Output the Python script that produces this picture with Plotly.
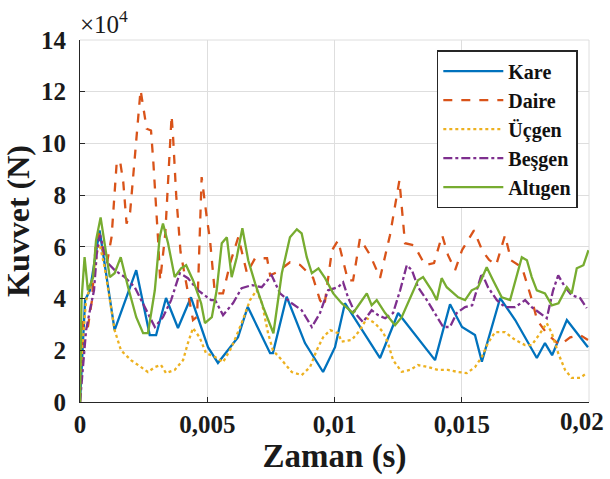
import plotly.graph_objects as go

# Time (s) and force (x10^4 N) for each shape
t_kare = [0, 0.00008, 0.0002, 0.00039, 0.00059, 0.00077, 0.00136, 0.00221, 0.00274, 0.00299,
          0.00338, 0.00385, 0.00436, 0.00503, 0.00542, 0.00621, 0.00659, 0.00747, 0.00758, 0.00812,
          0.00884, 0.00955, 0.01002, 0.01041, 0.01179, 0.0125, 0.01395, 0.01454, 0.01501, 0.01552,
          0.01579, 0.01651, 0.0171, 0.01795, 0.01827, 0.01855, 0.01913, 0.01996]
f_kare = [0, 1.5, 3.94, 4.32, 5.5, 6.64, 2.78, 5.10, 2.59, 2.59,
          4.02, 2.86, 4.05, 2.12, 1.51, 2.51, 3.68, 1.89, 1.89, 4.07,
          2.28, 1.16, 2.12, 3.82, 1.70, 3.44, 1.62, 3.78, 2.90, 2.59,
          1.56, 4.02, 3.17, 1.70, 2.28, 1.81, 3.17, 2.12]

t_daire = [0, 0.00012, 0.00031, 0.00047, 0.00063, 0.00075, 0.0009, 0.00106, 0.00124, 0.00144,
           0.00157, 0.0017, 0.00183, 0.00197, 0.00238, 0.00255, 0.00262, 0.00279, 0.00288, 0.00307,
           0.00315, 0.00335, 0.0036, 0.00366, 0.00378, 0.00395, 0.0042, 0.00444, 0.0046, 0.00478,
           0.00498, 0.00511, 0.0053, 0.00562, 0.0059, 0.00622, 0.00656, 0.00688, 0.00735, 0.00747,
           0.0077, 0.00825, 0.00865, 0.00916, 0.00943, 0.0096, 0.0099, 0.01014, 0.01053, 0.01073,
           0.011, 0.0114, 0.01179, 0.01218, 0.01255, 0.01277, 0.01313, 0.01356, 0.01391, 0.01423,
           0.01446, 0.01474, 0.01501, 0.01548, 0.0158, 0.01607, 0.01635, 0.0167, 0.01694, 0.01737,
           0.01776, 0.01796, 0.01839, 0.01886, 0.01926, 0.01965, 0.01996]
f_daire = [0, 3.17, 2.9, 3.94, 6.25, 6.52, 5.87, 5.37, 6.38, 9.23,
           9.34, 8.5, 6.9, 7.35, 12.07, 11.0, 10.57, 10.5, 9.3, 6.25,
           4.7, 6.5, 11.08, 10.2, 8.0, 5.8, 4.5, 3.17, 3.3, 8.7,
           7.15, 6.25, 4.2, 4.2, 5.37, 6.38, 4.98, 5.56, 5.56, 4.9,
           5.0, 5.4, 5.3, 4.8, 3.94, 3.7, 5.87, 6.25, 4.7, 4.7,
           6.33, 5.68, 4.8, 6.45, 8.57, 6.14, 6.06, 5.29, 5.37, 6.45,
           5.68, 5.1, 5.87, 6.64, 5.87, 5.5, 5.29, 6.45, 5.48, 5.2,
           3.94, 3.17, 2.59, 2.2, 2.5, 2.59, 2.4]

t_ucgen = [0, 0.00008, 0.00024, 0.00051, 0.00071, 0.00077, 0.00097, 0.00117, 0.00136, 0.00161,
           0.002, 0.0024, 0.00267, 0.00294, 0.00318, 0.00338, 0.00372, 0.00405, 0.00424, 0.00444,
           0.0047, 0.00495, 0.00531, 0.00562, 0.00596, 0.00635, 0.00668, 0.00694, 0.00715, 0.00739,
           0.00758, 0.00793, 0.00832, 0.00871, 0.00904, 0.0093, 0.00955, 0.00983, 0.01014, 0.01028,
           0.01068, 0.011, 0.01127, 0.01159, 0.01191, 0.0121, 0.0123, 0.01264, 0.01297, 0.01328,
           0.01368, 0.01407, 0.01446, 0.01486, 0.0152, 0.01552, 0.01579, 0.01603, 0.01631, 0.0167,
           0.0171, 0.01749, 0.01775, 0.01808, 0.01834, 0.01854, 0.01879, 0.01906, 0.01932, 0.01965,
           0.01991]
f_ucgen = [0, 2.0, 3.94, 4.8, 6.0, 6.1, 5.2, 3.94, 2.78, 2.0,
           1.62, 1.35, 1.16, 1.35, 1.43, 1.12, 1.24, 1.62, 2.28, 2.86,
           2.5, 1.89, 1.74, 1.54, 2.12, 3.05, 3.94, 4.32, 3.82, 2.66,
           2.0, 1.62, 1.16, 1.04, 1.35, 2.0, 2.5, 2.78, 2.66, 2.33,
           2.4, 2.78, 3.24, 3.05, 2.7, 2.28, 1.62, 1.17, 1.24, 1.43,
           1.35, 1.24, 1.24, 1.16, 1.12, 1.35, 1.74, 2.28, 2.7, 2.7,
           2.4, 2.2, 2.2, 2.66, 3.05, 2.66, 1.89, 1.24, 0.93, 0.93,
           1.12]

t_besgen = [0, 0.00012, 0.00024, 0.00039, 0.00055, 0.00067, 0.00079, 0.00094, 0.0011, 0.00136,
            0.00176, 0.00215, 0.00254, 0.00294, 0.00326, 0.00358, 0.00392, 0.00424, 0.00464, 0.00515,
            0.00531, 0.00562, 0.00601, 0.00635, 0.00675, 0.00714, 0.00753, 0.00786, 0.00832, 0.00871,
            0.00911, 0.00943, 0.00975, 0.01014, 0.01034, 0.01053, 0.01081, 0.01112, 0.01146, 0.01171,
            0.01199, 0.0123, 0.01258, 0.01284, 0.01304, 0.01328, 0.01363, 0.01395, 0.01427, 0.01454,
            0.0148, 0.01513, 0.01541, 0.01579, 0.01603, 0.01638, 0.0167, 0.0171, 0.01749, 0.01775,
            0.01808, 0.01834, 0.01859, 0.01879, 0.01906, 0.01932, 0.01965, 0.01991]
f_besgen = [0, 1.24, 2.78, 3.55, 4.32, 5.87, 6.45, 5.87, 5.37, 5.1,
            4.83, 4.44, 3.67, 2.9, 3.28, 3.94, 4.98, 4.79, 4.32, 3.94,
            3.94, 3.36, 3.82, 4.4, 4.52, 4.44, 4.9, 4.2, 3.82, 3.55,
            2.9, 3.44, 4.32, 4.44, 4.63, 4.05, 3.44, 3.09, 3.55, 3.36,
            3.24, 3.44, 4.32, 5.29, 5.1, 4.44, 3.94, 3.44, 2.9, 2.9,
            3.44, 3.67, 3.74, 4.98, 4.44, 3.94, 3.67, 3.67, 3.94, 3.67,
            3.44, 3.24, 4.32, 4.9, 4.44, 4.13, 4.02, 3.63]

t_altigen = [0, 0.00006, 0.00018, 0.00031, 0.00051, 0.00063, 0.00081, 0.00097, 0.00117, 0.00136,
             0.0016, 0.00189, 0.00221, 0.00248, 0.00267, 0.00294, 0.00313, 0.00326, 0.00346, 0.00372,
             0.00397, 0.00417, 0.00444, 0.00476, 0.00491, 0.00518, 0.00537, 0.00557, 0.00577, 0.00596,
             0.00616, 0.00638, 0.00661, 0.00688, 0.0072, 0.0076, 0.00793, 0.00825, 0.00852, 0.00871,
             0.00891, 0.00911, 0.00937, 0.00963, 0.00995, 0.01028, 0.01073, 0.011, 0.01127, 0.01146,
             0.01166, 0.01199, 0.01238, 0.01264, 0.01289, 0.01328, 0.01348, 0.01382, 0.01402, 0.01421,
             0.01441, 0.01486, 0.01513, 0.01539, 0.01564, 0.01598, 0.01623, 0.01657, 0.0169, 0.0171,
             0.01736, 0.01756, 0.01775, 0.01795, 0.01827, 0.01854, 0.0188, 0.01913, 0.01932, 0.01952,
             0.01978, 0.01998]
f_altigen = [0, 3.94, 5.6, 4.32, 4.8, 6.25, 7.14, 6.14, 4.83, 4.98,
             5.6, 4.44, 3.28, 2.66, 2.66, 4.32, 6.37, 6.9, 6.14, 4.83,
             5.17, 5.29, 4.71, 3.82, 3.05, 3.28, 4.32, 6.14, 6.37, 4.83,
             5.6, 6.72, 5.48, 4.59, 3.67, 2.66, 4.98, 6.37, 6.68, 6.52,
             5.6, 4.98, 5.17, 4.79, 4.2, 3.82, 3.44, 3.82, 4.2, 3.74,
             3.94, 3.44, 2.97, 3.28, 3.82, 4.71, 4.83, 4.32, 3.94, 4.79,
             4.44, 4.05, 3.94, 4.32, 4.44, 5.21, 4.71, 4.05, 3.94, 4.71,
             5.6, 5.48, 4.83, 4.32, 4.2, 3.74, 3.82, 4.44, 4.2, 5.17,
             5.29, 5.87]

names = ["Kare", "Daire", "Üçgen", "Beşgen", "Altıgen"]
colors = ["#0072BD", "#D95319", "#EDB120", "#7E2F8E", "#77AC30"]
dashes = ["solid", "dash", "dot", "dashdot", "solid"]

x_tickvals = [0, 0.005, 0.01, 0.015, 0.02]
x_ticktext = ["0", "0,005", "0,01", "0,015", "0,02"]
y_tickvals = [0, 2, 4, 6, 8, 10, 12, 14]

series = [(t_kare, f_kare), (t_daire, f_daire), (t_ucgen, f_ucgen),
          (t_besgen, f_besgen), (t_altigen, f_altigen)]
for (t, f) in series:
    assert len(t) == len(f), (len(t), len(f))

fig = go.Figure()
for (t, f), n, c, d in zip(series, names, colors, dashes):
    fig.add_trace(go.Scatter(x=t, y=f, mode="lines", name=n,
                             line=dict(color=c, width=2.3, dash=d)))

serif = "Liberation Serif"
txt = "#1a1a1a"
grid = "#dedede"
tickfont = dict(family=serif, size=25, weight="bold", color=txt)

fig.update_layout(
    width=610, height=479,
    margin=dict(l=80, r=21, t=40, b=77, autoexpand=False),
    paper_bgcolor="white", plot_bgcolor="white",
    font=dict(family=serif, color=txt),
    showlegend=True,
    legend=dict(x=0.701, y=0.972, xanchor="left", yanchor="top",
                bgcolor="white", bordercolor="#262626", borderwidth=1.5,
                font=dict(family=serif, size=20, weight="bold", color="#111"),
                itemwidth=60, tracegroupgap=0),
    # the last x tick (0,02) is drawn separately so its label stays inside the page
    xaxis=dict(range=[0, 0.02], tickvals=x_tickvals[:-1], ticktext=x_ticktext[:-1],
               showgrid=True, gridcolor=grid, gridwidth=1,
               showline=True, linecolor="#262626", linewidth=1,
               ticks="inside", ticklen=5, tickcolor="#262626",
               zeroline=False, automargin=False,
               tickfont=tickfont,
               title=dict(text="Zaman (s)", standoff=6,
                          font=dict(family=serif, size=33, weight="bold", color=txt))),
    yaxis=dict(range=[0, 14], tickvals=y_tickvals,
               showgrid=True, gridcolor=grid, gridwidth=1,
               showline=True, linecolor="#262626", linewidth=1,
               ticks="inside", ticklen=5, tickcolor="#262626",
               zeroline=False, ticklabelstandoff=8, automargin=False,
               tickfont=tickfont,
               title=dict(text="Kuvvet (N)", standoff=2,
                          font=dict(family=serif, size=32, weight="bold", color=txt))),
)
# light box edges on the top and right, as in the original
fig.add_shape(type="line", xref="paper", yref="paper", x0=1, x1=1, y0=0, y1=1,
              line=dict(color=grid, width=1), layer="below")
fig.add_shape(type="line", xref="paper", yref="paper", x0=0, x1=1, y0=1, y1=1,
              line=dict(color=grid, width=1), layer="below")
fig.add_annotation(xref="x", yref="paper", x=x_tickvals[-1], y=0, xanchor="center",
                   yanchor="top", xshift=-7, yshift=-4, showarrow=False,
                   text=x_ticktext[-1], font=tickfont)
fig.add_annotation(xref="paper", yref="paper", x=0, y=1, xanchor="left", yanchor="bottom",
                   xshift=-2, yshift=0, showarrow=False,
                   text="×10<sup>4</sup>",
                   font=dict(family=serif, size=25, color=txt))

fig.write_html("out.html")
